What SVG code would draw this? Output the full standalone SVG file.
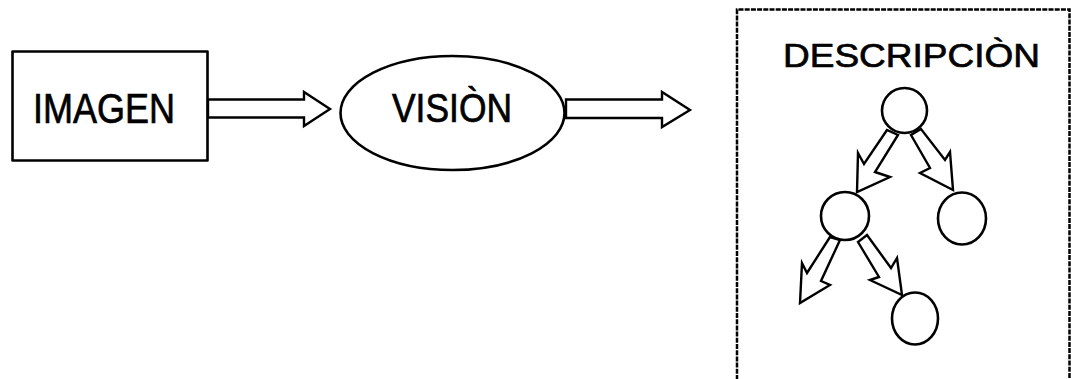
<svg xmlns="http://www.w3.org/2000/svg" width="1071" height="379" viewBox="0 0 1071 379">
  <style>
    .shape { fill: #fff; stroke: #000; stroke-width: 2.6; stroke-linejoin: round; }
    .arrow { fill: #fff; stroke: #000; stroke-width: 2.4; stroke-linejoin: miter; }
    .label { font-family: "Liberation Sans", Arial, sans-serif; fill: #000; stroke: #000; stroke-width: 0.7; }
    .frame { fill: none; stroke: #000; stroke-width: 2.5; stroke-dasharray: 5 1.2; }
  </style>
  <rect width="1071" height="379" fill="#fff"/>

  <!-- Input image -->
  <g id="imagen">
    <rect class="shape" x="12.5" y="51.5" width="195" height="109"/>
    <text class="label" x="33" y="123" font-size="42" textLength="142" lengthAdjust="spacingAndGlyphs">IMAGEN</text>
  </g>

  <!-- Vision process -->
  <g id="vision">
    <ellipse class="shape" cx="452.5" cy="113" rx="112" ry="57"/>
    <text class="label" x="392" y="122" font-size="40" textLength="120" lengthAdjust="spacingAndGlyphs">VISIÒN</text>
  </g>

  <!-- Description panel with a tree -->
  <g id="descripcion">
    <path class="frame" d="M737,380 V9.5 H1069.5 V380"/>
    <text class="label" x="783" y="67" font-size="34" textLength="257" lengthAdjust="spacingAndGlyphs">DESCRIPCIÒN</text>
    <g id="tree-nodes">
      <ellipse id="node-root" class="shape" cx="904.5" cy="110.5" rx="22.5" ry="22.5"/>
      <ellipse id="node-left" class="shape" cx="845" cy="216" rx="24" ry="24"/>
      <ellipse id="node-right" class="shape" cx="962" cy="218.5" rx="24" ry="26"/>
      <ellipse id="node-leaf" class="shape" cx="915" cy="318.5" rx="23" ry="26"/>
    </g>
  </g>

  <!-- Connectors: hollow block arrows -->
  <g id="connectors">
    <polygon class="arrow" points="208,99.5 304,99.5 304,92 330,109 304,126 304,117.5 208,117.5"/>
    <polygon class="arrow" points="566,99.5 662,99.5 662,92 690,110 662,127 662,118 566,118"/>
    <polygon class="arrow" points="887,130 864,164 858,153 857,192 890,177 875,172 898,135"/>
    <polygon class="arrow" points="911,135 930,168 920,173 953,190 950,152 945,160 921,129"/>
    <polygon class="arrow" points="830,237 807,273 802,263 800,303 830,285 821,281 840,240"/>
    <polygon class="arrow" points="858,242 879,277 870,280 902,295 897,258 891,268 867,235"/>
  </g>
</svg>
